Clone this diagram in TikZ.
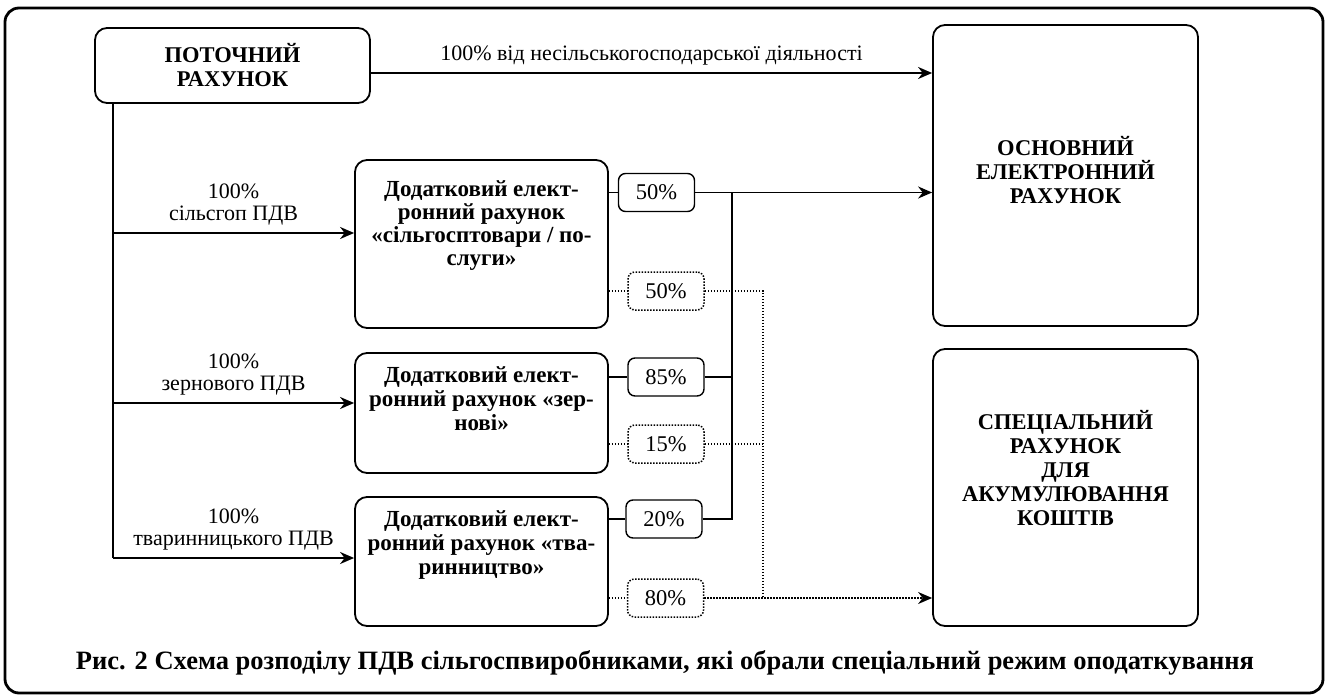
\documentclass[tikz,border=0pt]{standalone}
\usepackage{fontspec}
\setmainfont{Liberation Serif}
\usetikzlibrary{arrows.meta}

\tikzset{
  acct/.style={draw, line width=1.8pt, rounded corners=12pt, inner sep=0pt},
  share/.style={draw, line width=1.4pt, rounded corners=7pt, minimum width=76pt,
    minimum height=38pt, inner sep=0pt, font=\fontsize{22.5}{22.5}\selectfont},
  link/.style={line width=1.8pt},
  dots/.style={line width=1.5pt, dash pattern=on 1.5pt off 1.5pt},
  tip/.style={-{Stealth[length=14pt,width=12pt]}},
  lbl/.style={font=\fontsize{22}{22}\selectfont, align=center},
  title/.style={font=\fontsize{22.5}{24}\selectfont\bfseries, align=center, inner sep=0pt},
  subtitle/.style={font=\fontsize{23}{23}\selectfont\bfseries, align=center, inner sep=0pt, anchor=north},
}

\begin{document}
\begin{tikzpicture}[x=1pt,y=-1pt]
    \useasboundingbox (0,0) rectangle (1327,695);
    % frame
    \draw[line width=2.8pt, rounded corners=14pt] (5,8) rectangle (1323,693);

    % accounts
    \node[acct, title, minimum width=275pt, minimum height=75pt] (cur) at (232.5,65.5) {ПОТОЧНИЙ\\РАХУНОК};
    \node[acct, minimum width=265pt, minimum height=301pt] (main) at (1065.5,175.5) {};
    \node[title] (maintext) at (1065.5,170) {ОСНОВНИЙ\\ЕЛЕКТРОННИЙ\\РАХУНОК};
    \node[acct, minimum width=265pt, minimum height=277pt] (spec) at (1065.5,487.5) {};
    \node[title] (spectext) at (1065.5,468) {СПЕЦІАЛЬНИЙ\\РАХУНОК\\ДЛЯ\\АКУМУЛЮВАННЯ\\КОШТІВ};

    % additional accounts
    \node[acct, minimum width=253pt, minimum height=168pt] (agro) at (481.5,244) {};
    \node[subtitle] (agrotext) at (481.5,180) {Додатковий елект-\\ронний рахунок\\«сільгосптовари / по-\\слуги»};
    \node[acct, minimum width=253pt, minimum height=120pt] (grain) at (481.5,413) {};
    \node[subtitle, align=center, font=\fontsize{23}{24}\selectfont\bfseries] (graintext) at (481.5,366) {Додатковий елект-\\ронний рахунок «зер-\\нові»};
    \node[acct, minimum width=253pt, minimum height=129pt] (stock) at (481.5,561.5) {};
    \node[subtitle, font=\fontsize{23}{24}\selectfont\bfseries] (stocktext) at (481.5,510) {Додатковий елект-\\ронний рахунок «тва-\\ринництво»};

    % shares
    \node[share] (a1) at (656.5,192.5) {50\%};
    \node[share, dots] (b1) at (666,291) {50\%};
    \node[share] (a2) at (666,377) {85\%};
    \node[share, dots] (b2) at (666,444) {15\%};
    \node[share] (a3) at (664,519) {20\%};
    \node[share, dots] (b3) at (665.5,598) {80\%};

    \coordinate (trunk) at (113,558);
    \coordinate (mainbus) at (732,519);
    \coordinate (specbus) at (763,291);

    % current account
    \draw[link, tip] (cur.east |- 0,73) -- (main.west |- 0,73)
        node[midway, above=4pt, lbl] {100\% від несільськогосподарської діяльності};
    \draw[link] (cur.south -| trunk) -- (trunk);
    \draw[link, tip] (trunk |- 0,233) -- (agro.west |- 0,233)
        node[midway, above=4pt, lbl] {100\%\\сільсгоп ПДВ};
    \draw[link, tip] (trunk |- 0,403) -- (grain.west |- 0,403)
        node[midway, above=4pt, lbl] {100\%\\зернового ПДВ};
    \draw[link, tip] (trunk) -- (stock.west |- trunk)
        node[midway, above=4pt, lbl] {100\%\\тваринницького ПДВ};

    % to main account
    \draw[link] (agro.east |- a1) -- (a1);
    \draw[link, tip] (a1) -- (main.west |- a1);
    \draw[link] (a1 -| mainbus) -- (mainbus) -- (a3);
    \draw[link] (grain.east |- a2) -- (a2) -- (a2 -| mainbus);
    \draw[link] (stock.east |- a3) -- (a3);

    % to special account
    \draw[dots] (agro.east |- b1) -- (b1) -- (specbus) -- (specbus |- b3);
    \draw[dots] (grain.east |- b2) -- (b2) -- (b2 -| specbus);
    \draw[dots] (stock.east |- b3) -- (b3);
    \draw[dots, tip] (b3) -- (spec.west |- b3);

    % caption
    \node[font=\fontsize{26.5}{26.5}\selectfont\bfseries] (caption) at (665,663)
        {Рис. 2 Схема розподілу ПДВ сільгоспвиробниками, які обрали спеціальний режим оподаткування};
\end{tikzpicture}
\end{document}
